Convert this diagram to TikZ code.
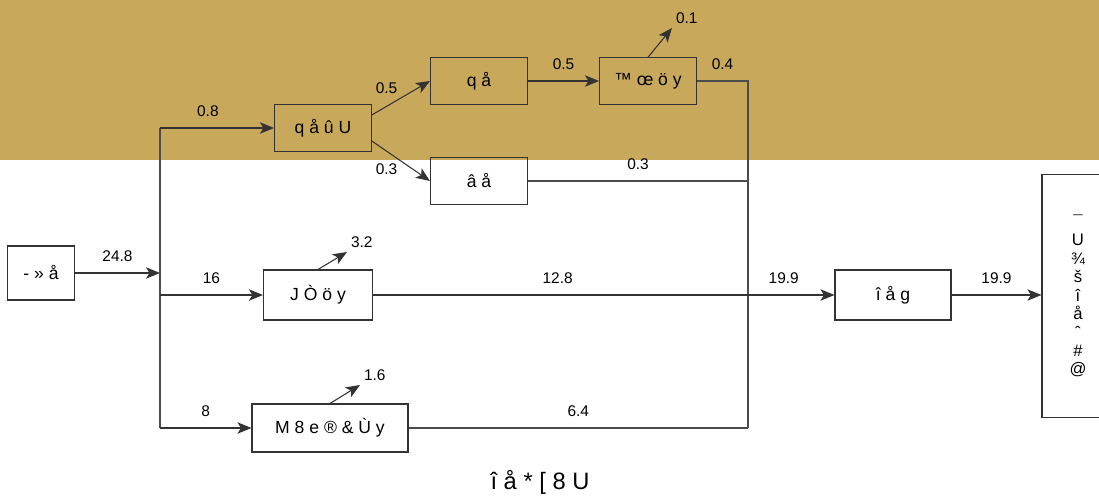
\documentclass[tikz,border=0pt]{standalone}
\usepackage{fontspec}
\setmainfont{Liberation Sans}
\usetikzlibrary{positioning,arrows.meta}
\definecolor{bandtan}{RGB}{200,169,92}

\begin{document}
\begin{tikzpicture}[x=0.02cm, y=-0.02cm,
    block/.style={rectangle, draw=black!80, line width=0.6pt, text centered, minimum width=1.94cm, minimum height=0.93cm, inner sep=1pt, font=\fontsize{10}{12}\selectfont},
    lbl/.style={font=\fontsize{8.8}{10}\selectfont, inner sep=2pt},
    line/.style={draw=black!80, line width=0.6pt, -{Stealth[length=8pt, width=6.5pt, inset=2pt]}},
    plain/.style={draw=black!70, line width=0.6pt}]

    \useasboundingbox (0,0) rectangle (1099,497);
    \fill [bandtan] (0,0) rectangle (1099,160);

    \node [block, minimum width=1.34cm, minimum height=1.08cm] (src) at (41,273) {- » å};
    \node [block] (qau) at (323,128) {q å û U};
    \node [block] (qa) at (479,81) {q å};
    \node [block] (aa) at (479,181) {â å};
    \node [block] (tri) at (648,81) {™ œ ö y};
    \node [block, minimum width=2.18cm, minimum height=1cm] (joy) at (318,295) {J Ò ö y};
    \node [block, minimum width=3.12cm, minimum height=0.96cm] (meb) at (330,428) {M 8 e ® \& Ù y};
    \node [block, minimum width=2.32cm, minimum height=1cm] (iag) at (893,295) {î å g};
    \node [block, minimum width=1.44cm, minimum height=4.86cm, align=center, font=\fontsize{9.5}{10.5}\selectfont] (out) at (1078,296) {¯\\U\\¾\\š\\î\\å\\ˆ\\\#\\@};
    \node [font=\fontsize{13.5}{15}\selectfont] (cap) at (540,482) {î å * [ 8 U};

    \coordinate (tTop) at (160,128);
    \coordinate (tIn) at (160,273);
    \coordinate (tBot) at (160,428);
    \coordinate (mTop) at (748,81);
    \coordinate (mBot) at (748,428);
    \coordinate (lTri) at (672,28);
    \coordinate (lJoy) at (347,252);
    \coordinate (lMeb) at (360,385);

    % feed and trunk
    \path [line] (src) -- node[lbl, above=4pt] {24.8} (tIn);
    \path [plain] (tTop) -- (tBot);
    \path [line] (tTop) -- node[lbl, above=4pt, pos=0.42] {0.8} (qau);
    \path [line] (tIn |- joy) -- node[lbl, above=4pt] {16} (joy);
    \path [line] (tBot) -- node[lbl, above=4pt] {8} (meb);

    % upper branch
    \path [line] (qau.15) -- node[lbl, pos=0.25, above=5pt] {0.5} (qa.west);
    \path [line] (qau.-15) -- node[lbl, pos=0.25, below=5pt] {0.3} (aa.west);
    \path [line] (qa) -- node[lbl, above=4pt] {0.5} (tri);
    \path [line] (tri.north) -- (lTri) node[lbl, above right] {0.1};
    \path [plain] (tri) -- node[lbl, above=4pt] {0.4} (mTop) -- (mBot);
    \path [plain] (aa) -- node[lbl, above=4pt] {0.3} (mTop |- aa);

    % middle and lower branches
    \path [line] (joy.north) -- (lJoy) node[lbl, above right] {3.2};
    \path [line] (meb.north) -- (lMeb) node[lbl, above right] {1.6};
    \path [plain] (meb) -- node[lbl, above=4pt] {6.4} (mBot);
    \path [line] (joy) -- node[lbl, above=4pt, pos=0.4] {12.8} node[lbl, above=4pt, pos=0.89] {19.9} (iag);
    \path [line] (iag) -- node[lbl, above=4pt] {19.9} (out.west |- iag);
\end{tikzpicture}
\end{document}
